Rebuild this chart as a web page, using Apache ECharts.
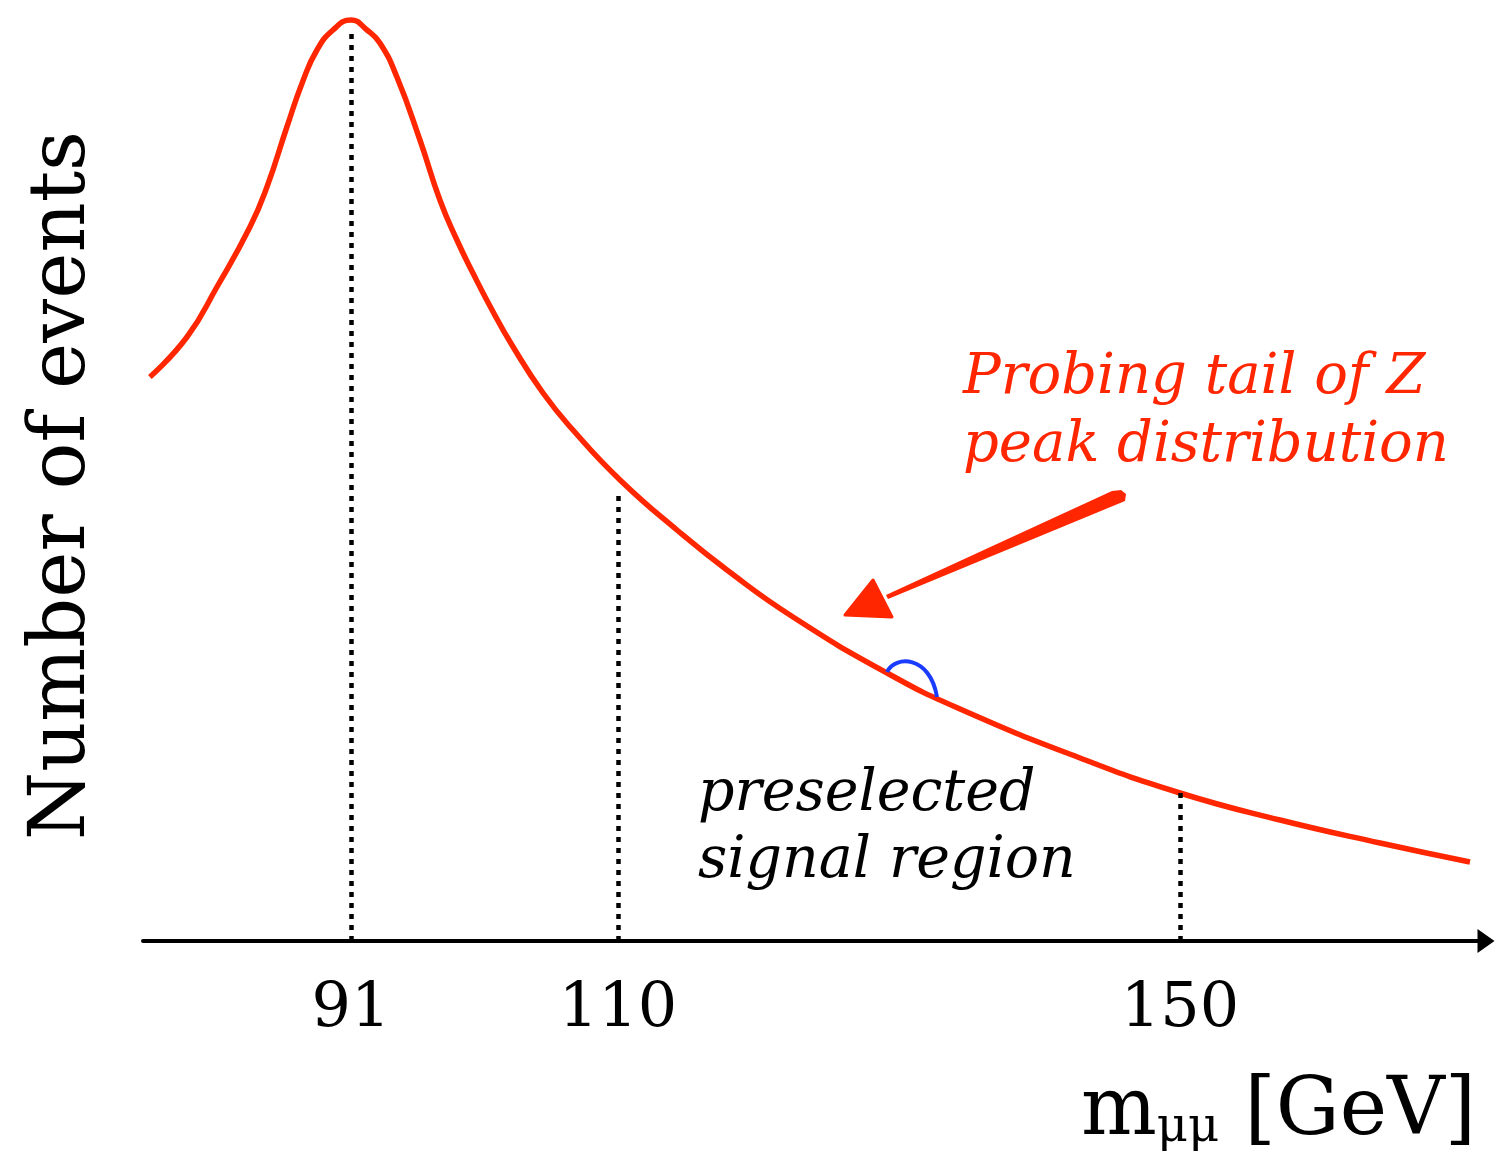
<!DOCTYPE html>
<html>
<head>
<meta charset="utf-8">
<script src="https://cdn.jsdelivr.net/npm/echarts@6/dist/echarts.min.js"></script>
<style>
html,body{margin:0;padding:0;background:#fff;}
#chart{width:1495px;height:1156px;}
</style>
</head>
<body>
<div id="chart"></div>
<script>
// Dimuon invariant mass (GeV) and number of events (arbitrary units)
const mass = [76.69, 79.33, 81.46, 83.81, 85.02, 86.44, 87.58, 88.58, 89.72, 91.0,
  92.14, 93.06, 94.27, 95.91, 97.33, 98.54, 99.68, 100.89, 102.50, 104.67, 106.80, 110.15, 114.20,
  117.76, 122.46, 129.15, 134.35, 142.89, 150.0, 157.12, 164.24, 170.64];
const events = [564, 604, 654, 714, 754, 814, 860, 891, 911, 921,
  911, 898, 864, 801, 741, 701, 668, 635, 595, 548, 511, 461, 411,
  371, 324, 268, 232, 183, 148, 121, 98, 79];
// Tick labels / marker lines
const tickValues = [91, 110, 150];
const markerTop = [908, 450, 148];

const serif = "'DejaVu Serif', serif";
const red = '#ff2600';

const chart = echarts.init(document.getElementById('chart'), null, {renderer: 'canvas'});
chart.setOption({
  animation: false,
  backgroundColor: '#fff',
  grid: {left: 143, right: 9, top: 0, bottom: 215, containLabel: false, outerBoundsMode: 'none'},
  xAxis: {
    type: 'value', min: 76.2, max: 171.78,
    axisLine: {show: true, symbol: ['none', 'triangle'], symbolSize: [24, 17],
      lineStyle: {color: '#000', width: 4}},
    axisTick: {show: false},
    splitLine: {show: false},
    axisLabel: {customValues: tickValues, fontSize: 62, fontFamily: serif, color: '#000', margin: 38},
    name: '{m|m}{sub|μμ}{m| [GeV]}',
    nameLocation: 'end',
    nameGap: -10,
    nameTextStyle: {
      align: 'right', verticalAlign: 'top', padding: [132, 0, 0, 0],
      rich: {
        m: {fontSize: 80, fontFamily: serif, color: '#000', lineHeight: 80},
        sub: {fontSize: 48, fontFamily: serif, color: '#000', lineHeight: 48, verticalAlign: 'bottom'}
      }
    }
  },
  yAxis: {
    type: 'value', min: 0, max: 941,
    axisLine: {show: false}, axisTick: {show: false}, axisLabel: {show: false}, splitLine: {show: false},
    name: 'Number of events',
    nameLocation: 'middle', nameRotate: 90, nameGap: 40,
    nameTextStyle: {fontSize: 78, fontFamily: serif, color: '#000', padding: [0, 30, 0, 0]}
  },
  series: [{
    type: 'line',
    data: mass.map((m, i) => [m, events[i]]),
    showSymbol: false,
    smooth: 0.5,
    clip: false,
    lineStyle: {color: red, width: 5.5},
    z: 3,
    markLine: {
      silent: true,
      symbol: ['none', 'none'],
      label: {show: false},
      lineStyle: {color: '#000', width: 4.5, type: [5, 6]},
      data: tickValues.map((x, i) => [{coord: [x, 0]}, {coord: [x, markerTop[i]]}])
    }
  }],
  graphic: [
    {type: 'text', left: 963, top: 344, z: 10,
      style: {text: 'Probing tail of Z\npeak distribution', font: 'italic 56px ' + serif, fill: red, lineHeight: 68}},
    {type: 'text', left: 698, top: 762, z: 10,
      style: {text: 'preselected\nsignal region', font: 'italic 57px ' + serif, fill: '#000', lineHeight: 67}},
    {type: 'polygon', z: 10,
      shape: {points: [[1125, 501], [1126, 494], [1121, 490], [1112, 491], [886, 595], [888, 599]]},
      style: {fill: red}},
    {type: 'polygon', z: 10,
      shape: {points: [[873, 580], [845, 615], [892, 617]]},
      style: {fill: red, stroke: red, lineWidth: 3, lineJoin: 'round'}},
    {type: 'bezierCurve', z: 10,
      shape: {x1: 887, y1: 672, cpx1: 895, cpy1: 655, cpx2: 930, cpy2: 655, x2: 937, y2: 697},
      style: {stroke: '#1a3cff', lineWidth: 4, fill: null}}
  ]
});
</script>
</body>
</html>
